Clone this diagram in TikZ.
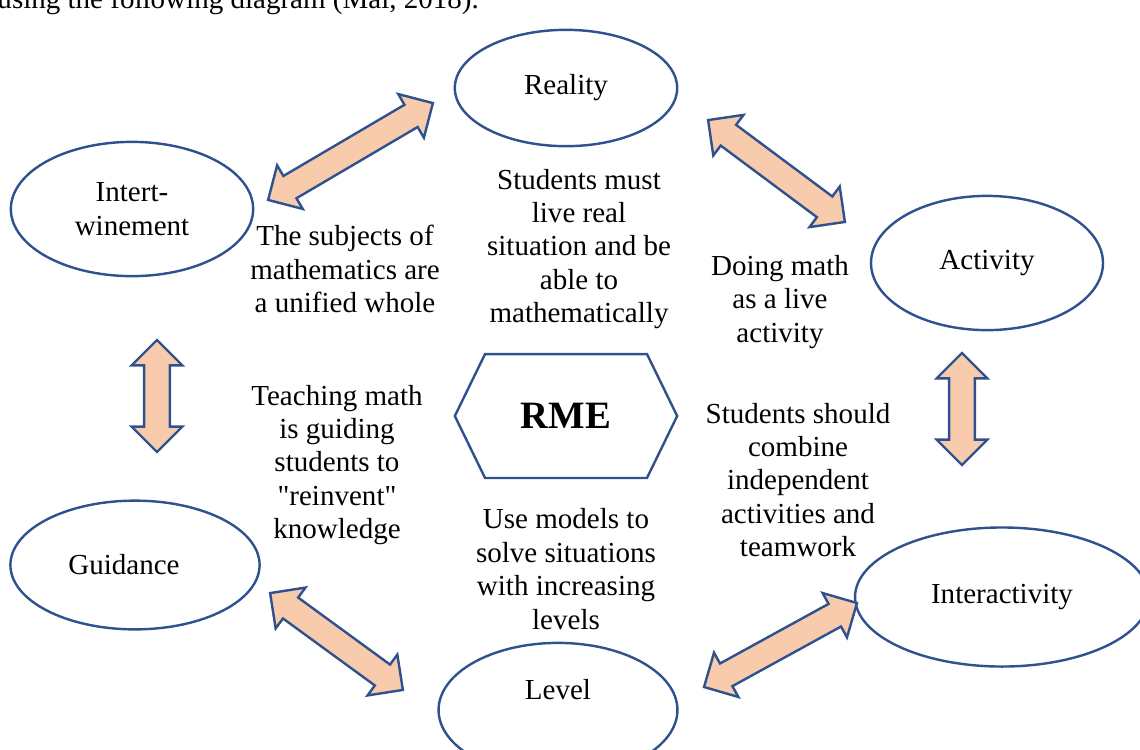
\documentclass[tikz,border=0pt]{standalone}
\usepackage{fontspec}
\setmainfont{Liberation Serif}
\usetikzlibrary{shapes,arrows,calc}
\definecolor{rmeblue}{HTML}{2F528F}
\definecolor{rmepeach}{HTML}{F8CBAD}
\tikzstyle{idea} = [ellipse, draw=rmeblue, line width=1pt, inner sep=0pt]
\tikzstyle{core} = [signal, signal to=west and east, signal pointer angle=128, draw=rmeblue,
    line width=1pt, minimum width=3.23cm, minimum height=1.80cm, font=\fontsize{16}{19}\selectfont\bfseries]
\tikzstyle{note} = [align=center, inner sep=0pt]
\tikzstyle{link} = [double arrow, draw=rmeblue, fill=rmepeach, line width=1pt, inner xsep=0pt,
    inner ysep=0.17cm, double arrow head extend=0.18cm, double arrow tip angle=90]
\newcommand{\linkarrow}[3]{\path let \p1=($(#3)-(#2)$), \n1={veclen(\x1,\y1)}, \n2={atan2(\y1,\x1)}
    in node [link, minimum height=\n1, rotate=\n2] (#1) at ($(#2)!0.5!(#3)$) {};}

\begin{document}
\begin{tikzpicture}[x=0.01453cm, y=-0.01453cm, font=\fontsize{12}{13.8}\selectfont]
	\useasboundingbox (0,0) rectangle (1140,749);

		\node [anchor=base west, inner sep=0pt] (intro) at (-3,8) {using the following diagram (Mai, 2018).};

		\node [core] (rme) at (566,416) {RME};

		\node [idea, minimum width=3.23cm, minimum height=1.69cm] (reality) at (566,88) {Reality};
		\node [idea, minimum width=3.52cm, minimum height=1.95cm, align=center] (intertwine) at (132,209) {Intert-\\winement};
		\node [idea, minimum width=3.37cm, minimum height=1.95cm] (activity) at (987,263) {Activity};
		\node [idea, minimum width=3.62cm, minimum height=1.87cm, label={[xshift=-0.16cm]center:Guidance}] (guidance) at (135,565) {};
		\node [idea, minimum width=4.27cm, minimum height=2.02cm] (interactivity) at (1002,597) {Interactivity};
		\node [idea, minimum width=3.47cm, minimum height=1.95cm, label={[yshift=0.29cm]center:Level}] (level) at (558,710) {};

		\node [note] (realnote) at (579,249) {Students must\\live real\\situation and be\\able to\\mathematically};
		\node [note] (unifnote) at (345,269) {The subjects of\\mathematics are\\a unified whole};
		\node [note] (actnote) at (780,302) {Doing math\\as a live\\activity};
		\node [note] (guidnote) at (337,465) {Teaching math\\is guiding\\students to\\\textquotedbl reinvent\textquotedbl\\knowledge};
		\node [note] (internote) at (798,480) {Students should\\combine\\independent\\activities and\\teamwork};
		\node [note] (levelnote) at (566,569) {Use models to\\solve situations\\with increasing\\levels};

		\coordinate (a1) at (268,200);
		\coordinate (b1) at (433,103);
		\coordinate (a2) at (708,120);
		\coordinate (b2) at (845,222);
		\coordinate (a3) at (157,340);
		\coordinate (b3) at (157,452);
		\coordinate (a4) at (962,353);
		\coordinate (b4) at (962,465);
		\coordinate (a5) at (270,593);
		\coordinate (b5) at (403,690);
		\coordinate (a6) at (704,687);
		\coordinate (b6) at (857,603);

		\linkarrow{iwre}{a1}{b1}
		\linkarrow{reac}{a2}{b2}
		\linkarrow{iwgu}{a3}{b3}
		\linkarrow{acin}{a4}{b4}
		\linkarrow{gule}{a5}{b5}
		\linkarrow{lein}{a6}{b6}
	\end{tikzpicture}
\end{document}
